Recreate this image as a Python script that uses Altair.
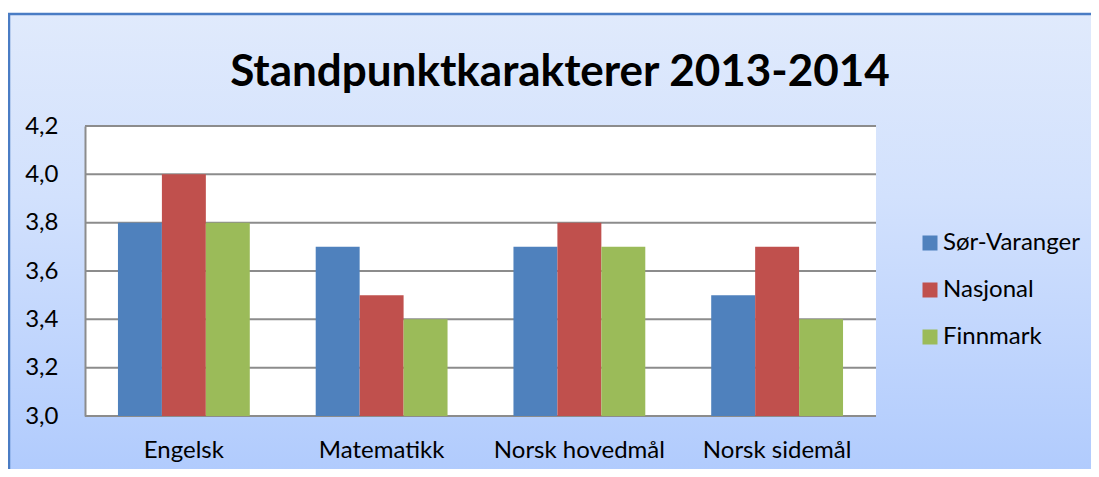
import altair as alt
import pandas as pd

categories = ["Engelsk", "Matematikk", "Norsk hovedmål", "Norsk sidemål"]
series = ["Sør-Varanger", "Nasjonal", "Finnmark"]
sor_varanger = [3.8, 3.7, 3.7, 3.5]
nasjonal = [4.0, 3.5, 3.8, 3.7]
finnmark = [3.8, 3.4, 3.7, 3.4]
y_ticks = [3.0, 3.2, 3.4, 3.6, 3.8, 4.0, 4.2]
colors = ["#4F81BD", "#C0504D", "#9BBB59"]
title_text = "Standpunktkarakterer 2013-2014"

rows = []
for s, vals in zip(series, [sor_varanger, nasjonal, finnmark]):
    for c, v in zip(categories, vals):
        rows.append({"Fag": c, "Serie": s, "Verdi": v})
df = pd.DataFrame(rows)
grid_df = pd.DataFrame({"v": y_ticks})

W, H = 791, 290
PAD = {"left": 77, "top": 118, "right": 215, "bottom": 53}
FONT = "Lato"

yscale = alt.Scale(domain=[3.0, 4.2], nice=False, zero=False)

bg = alt.Chart(grid_df).mark_rect(
    fill=alt.Gradient(
        gradient="linear",
        stops=[alt.GradientStop(color="#e0eafc", offset=0),
               alt.GradientStop(color="#d2e1fd", offset=0.35),
               alt.GradientStop(color="#a9c6fd", offset=1)],
        x1=0, x2=0, y1=0, y2=1),
    stroke="#4a7cc4", strokeWidth=2.5,
).encode(
    x=alt.value(-76), x2=alt.value(W + 260),
    y=alt.value(-112), y2=alt.value(H + 120),
).transform_filter("datum.v == 3")

plotbg = alt.Chart(grid_df).mark_rect(fill="white").encode(
    x=alt.value(0), x2=alt.value(W), y=alt.value(0), y2=alt.value(H)
).transform_filter("datum.v == 3")

title = alt.Chart(grid_df).mark_text(
    font=FONT, fontSize=44, fontWeight="bold", color="#000000",
    align="center", baseline="alphabetic"
).encode(
    x=alt.value(475), y=alt.value(-40), text=alt.value(title_text)
).transform_filter("datum.v == 3")

grid = alt.Chart(grid_df).mark_rule(color="#8c8c8c", strokeWidth=2).encode(
    y=alt.Y("v:Q", scale=yscale)
)

bars = alt.Chart(df).mark_bar().encode(
    x=alt.X("Fag:N", sort=categories,
            scale=alt.Scale(paddingInner=0, paddingOuter=0),
            axis=alt.Axis(title=None, labelAngle=0, ticks=False, domain=False,
                          labelFont=FONT, labelFontSize=24, labelColor="#000000",
                          labelPadding=22, zindex=1)),
    xOffset=alt.XOffset("Serie:N", sort=series,
                        scale=alt.Scale(paddingInner=0, paddingOuter=0.75)),
    y=alt.Y("Verdi:Q", scale=yscale,
            axis=alt.Axis(title=None, values=y_ticks, grid=False, ticks=False,
                          domain=True, domainColor="#8c8c8c", domainWidth=2,
                          labelExpr="replace(format(datum.value, '.1f'), '.', ',')",
                          labelFont=FONT, labelFontSize=24, labelColor="#000000",
                          labelPadding=27, zindex=1)),
    y2=alt.datum(3.0),
    color=alt.Color("Serie:N", sort=series,
                    scale=alt.Scale(domain=series, range=colors),
                    legend=alt.Legend(title=None, orient="none", legendX=833, legendY=105,
                                      symbolType="square", symbolSize=225,
                                      symbolStrokeWidth=0, labelFont=FONT,
                                      labelFontSize=24, labelColor="#000000",
                                      rowPadding=23, labelOffset=1, zindex=1)),
)

chart = alt.layer(bg, plotbg, grid, bars, title).properties(
    width=W, height=H,
    padding=PAD,
    autosize=alt.AutoSizeParams(type="none"),
    background="white",
).configure_view(stroke=None)

chart.save("out.html", embed_options={"renderer": "svg", "actions": False})
